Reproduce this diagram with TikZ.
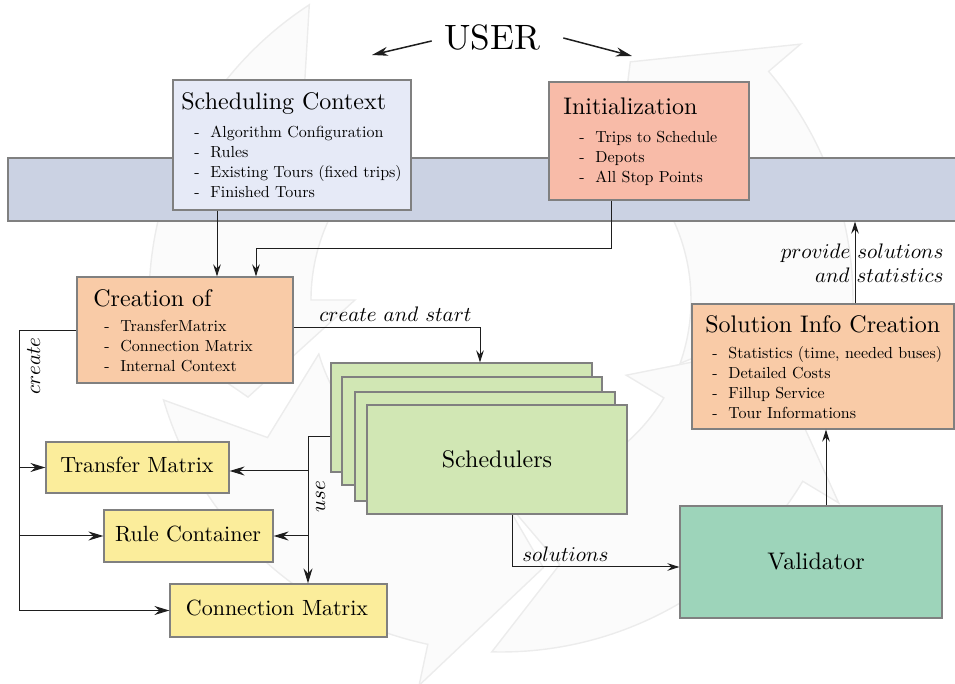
\documentclass[tikz,border=0pt]{standalone}
\usepackage{fontspec}
\setmainfont{lmroman10-regular.otf}[
  ItalicFont=lmroman10-italic.otf,
  BoldFont=lmroman10-bold.otf,
  Ligatures=TeX]
\DeclareFontShape{OML}{cmm}{m}{it}{<->cmmi10}{}
\usetikzlibrary{arrows.meta,fit}

\definecolor{bandblue}{RGB}{203,210,227}
\definecolor{ctxblue}{RGB}{230,234,247}
\definecolor{initsalmon}{RGB}{248,187,168}
\definecolor{createorange}{RGB}{249,203,167}
\definecolor{schedgreen}{RGB}{209,231,180}
\definecolor{valgreen}{RGB}{157,212,186}
\definecolor{matyellow}{RGB}{251,237,155}
\definecolor{boxgray}{RGB}{128,128,128}
\definecolor{linedark}{RGB}{30,30,30}
\definecolor{cyclefill}{RGB}{251,251,251}
\definecolor{cycleline}{RGB}{236,236,236}

\newcommand\setfs[2]{\fontsize{#1}{#2}\selectfont}
\newcommand\dashitem{\makebox[8pt][l]{-}}
\newcommand\itemlist[1]{\begin{tabular}[t]{@{}l@{}}#1\end{tabular}}

\begin{document}
\begin{tikzpicture}[x=0.5pt,y=-0.5pt,
  box/.style={draw=boxgray, line width=0.6pt, inner sep=0pt},
  conn/.style={draw=linedark, line width=0.5pt},
  tip/.style={-{Stealth[length=6pt,width=3.8pt,inset=2pt]}},
  bigtip/.style={-{Stealth[length=7.5pt,width=4.5pt,inset=2.5pt]}},
  usertip/.style={draw=linedark, line width=0.75pt, -{Stealth[length=8pt,width=4.5pt,inset=2.5pt]}},
  title/.style={font=\setfs{12}{14}, inner sep=0pt, anchor=base west},
  items/.style={font=\setfs{8}{10}, inner sep=0pt, anchor=base west},
  elabel/.style={font=\setfs{10.5}{11.75}, inner sep=0pt},
  boxtext/.style={font=\setfs{11}{13}, inner sep=0pt},
  bigtext/.style={font=\setfs{12}{14}, inner sep=0pt},
  cyclearrowstyle/.style={fill=cyclefill, draw=cycleline, line width=0.7pt, line join=miter}
]
\useasboundingbox (0,0) rectangle (955,684);

% faint cycle of curved block arrows in the background
\begin{scope}
  \clip (0,0) rectangle (955,684);
  \begin{scope}[shift={(501,300)}]
    \foreach \angT/\angB in {91.5/31, 19.5/-40.5, -123/-180, 163.5/102}{
      \pgfmathsetmacro\angP{\angB-21}
      \pgfmathsetmacro\angN{\angT-14}
      \draw[cyclearrowstyle]
        (\angT:352) arc[start angle=\angT, end angle=\angB, radius=352]
        -- (\angB:394) -- (\angP:271) -- (\angB:146) -- (\angB:190)
        arc[start angle=\angB, end angle=\angT, radius=190]
        -- (\angN:271) -- cycle;
    }
  \end{scope}
\end{scope}

% horizontal band
\node[box, fill=bandblue, fit={(8,158) (958,221)}] (band) {};

% boxes
\node[box, fill=ctxblue, fit={(173,80) (411,210)}] (ctx) {};
\node[box, fill=initsalmon, fit={(549,82) (749,200)}] (init) {};
\node[box, fill=createorange, fit={(77,277) (293,383)}] (cr) {};
\node[box, fill=createorange, fit={(692,304) (954,429)}] (sol) {};
\node[box, fill=schedgreen, fit={(331,363) (592,472)}] (sch1) {};
\node[box, fill=schedgreen, fit={(342,377) (602,485)}] (sch2) {};
\node[box, fill=schedgreen, fit={(355,392) (615,501)}] (sch3) {};
\node[box, fill=schedgreen, fit={(367,405) (627,514)}] (sch4) {};
\node[box, fill=valgreen, fit={(680,506) (942,618)}] (val) {};
\node[box, fill=matyellow, fit={(46,442) (229,493)}] (tm) {};
\node[box, fill=matyellow, fit={(104,510) (273,562)}] (rc) {};
\node[box, fill=matyellow, fit={(170,584) (387,637)}] (cm) {};

% single-line box labels
\node[bigtext, anchor=base] (sch-text) at (497,468) {Schedulers};
\node[bigtext, anchor=base] (val-text) at (816,570) {Validator};
\node[boxtext, anchor=base] (tm-text) at (137,473) {Transfer Matrix};
\node[boxtext, anchor=base] (rc-text) at (188,542) {Rule Container};
\node[boxtext, anchor=base] (cm-text) at (277,616) {Connection Matrix};

% titled boxes
\node[title] (ctx-title) at (181,110) {Scheduling Context};
\node[items] (ctx-list) at (194,138) {\itemlist{\dashitem Algorithm Configuration\\
  \dashitem Rules\\ \dashitem Existing Tours (fixed trips)\\ \dashitem Finished Tours}};
\node[title] (init-title) at (563,115) {Initialization};
\node[items] (init-list) at (579,143) {\itemlist{\dashitem Trips to Schedule\\
  \dashitem Depots\\ \dashitem All Stop Points}};
\node[title] (cr-title) at (93,307) {Creation of};
\node[items] (cr-list) at (104,332) {\itemlist{\dashitem TransferMatrix\\
  \dashitem Connection Matrix\\ \dashitem Internal Context}};
\node[title] (sol-title) at (705,333) {Solution Info Creation};
\node[items] (sol-list) at (712,359) {\itemlist{\dashitem Statistics (time, needed buses)\\
  \dashitem Detailed Costs\\ \dashitem Fillup Service\\ \dashitem Tour Informations}};

% user and its arrows
\node[font=\setfs{17.6}{20}, inner sep=0pt, anchor=base] (user) at (492,50) {USER};
\coordinate (user-left-end) at (372,55);
\coordinate (user-right-end) at (632,56);
\draw[usertip] ([xshift=-6pt,yshift=-1.5pt]user.west) -- (user-left-end);
\draw[usertip] ([xshift=11.5pt]user.east) -- (user-right-end);

% bend points of the connectors
\coordinate (ctx-drop) at (217,0);
\coordinate (init-bend) at (611,249);
\coordinate (init-bend2) at (256,249);
\coordinate (cs-bend) at (480,328);
\coordinate (cbus) at (19,331);
\coordinate (ubus) at (308,437);
\coordinate (ubus-tm) at (308,471);
\coordinate (sol-bend) at (512,567);
\coordinate (val-rise) at (826,0);
\coordinate (sol-rise) at (855,0);

% connectors
\draw[conn,tip] (ctx-drop |- ctx.south) -- (ctx-drop |- cr.north);
\draw[conn,tip] (init-bend |- init.south) -- (init-bend) -- (init-bend2) -- (init-bend2 |- cr.north);
\draw[conn,tip] (cr.east |- cs-bend) -- (cs-bend) -- (cs-bend |- sch1.north);

\draw[conn,bigtip] (cr.west |- cbus) -- (cbus) |- (cm.west);
\draw[conn,bigtip] (cbus |- tm.west) -- (tm.west);
\draw[conn,bigtip] (cbus |- rc.west) -- (rc.west);

\draw[conn,bigtip] (sch1.west |- ubus) -- (ubus) -- (ubus |- cm.north);
\draw[conn,bigtip] (ubus-tm) -- (tm.east |- ubus-tm);
\draw[conn,bigtip] (ubus |- rc.east) -- (rc.east);

\draw[conn,tip] (sol-bend |- sch4.south) -- (sol-bend) -- (val.west |- sol-bend);
\draw[conn,tip] (val-rise |- val.north) -- (val-rise |- sol.south);
\draw[conn,tip] (sol-rise |- sol.north) -- (sol-rise |- band.south);

% connector labels
\node[elabel, anchor=base west] (lbl-start) at (319,322) {$create\ and\ start$};
\node[elabel, anchor=base, rotate=90] (lbl-create) at (40,366) {$create$};
\node[elabel, anchor=base, rotate=90] (lbl-use) at (325,497) {$use$};
\node[elabel, anchor=base west] (lbl-sol) at (522,562) {$solutions$};
\node[elabel, anchor=base east] (lbl-provide) at (944,259)
  {\begin{tabular}[t]{@{}r@{}}$provide\ solutions$\\ $and\ statistics$\end{tabular}};
\end{tikzpicture}
\end{document}
